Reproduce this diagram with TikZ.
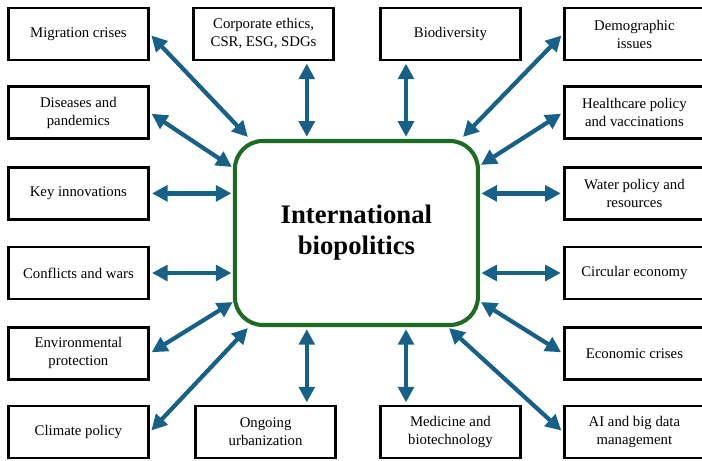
\documentclass[tikz,border=0pt]{standalone}
\usepackage{fontspec}
\setmainfont{Liberation Serif}
\usetikzlibrary{arrows.meta,positioning,calc}
\definecolor{linkblue}{RGB}{23,97,136}
\definecolor{hubgreen}{RGB}{30,108,36}

\begin{document}
\begin{tikzpicture}[
  topic/.style={draw,line width=2.1pt,fill=white,align=center,minimum width=3.5cm,minimum height=1.3cm,inner sep=2pt,font=\fontsize{10.5}{12.8}\selectfont},
  hubbox/.style={draw=hubgreen,line width=2.9pt,rounded corners=0.7cm,fill=white,align=center,minimum width=6.075cm,minimum height=4.6cm,font=\fontsize{19}{22}\selectfont\bfseries},
  link/.style={{Triangle[length=3.9mm,width=3.9mm]}-{Triangle[length=3.9mm,width=3.9mm]},line width=3pt,draw=linkblue,shorten <=1.5pt}
]
\useasboundingbox (0,0) rectangle (17.55,11.525);
\node[hubbox] (hub) at (8.91,5.7) {International\\biopolitics};
% left column
\node[topic] (mig) at (1.96,10.675) {Migration crises};
\node[topic] (dis) at (1.96,8.71) {Diseases and\\pandemics};
\node[topic] (inn) at (1.96,6.69) {Key innovations};
\node[topic] (war) at (1.96,4.70) {Conflicts and wars};
\node[topic] (env) at (1.96,2.69) {Environmental\\protection};
\node[topic] (cli) at (1.96,0.725) {Climate policy};
% top and bottom
\node[topic] (csr) at (6.59,10.675) {Corporate ethics,\\CSR, ESG, SDGs};
\node[topic] (bio) at (11.26,10.675) {Biodiversity};
\node[topic] (urb) at (6.64,0.725) {Ongoing\\urbanization};
\node[topic] (med) at (11.26,0.725) {Medicine and\\biotechnology};
% right column
\node[topic] (dem) at (15.86,10.675) {Demographic\\issues};
\node[topic] (hea) at (15.86,8.71) {Healthcare policy\\and vaccinations};
\node[topic] (wat) at (15.86,6.69) {Water policy and\\resources};
\node[topic] (cir) at (15.86,4.70) {Circular economy};
\node[topic] (eco) at (15.86,2.69) {Economic crises};
\node[topic] (ai) at (15.86,0.725) {AI and big data\\management};
\coordinate (up1) at ($(hub.north)+(-1.24,0)$);
\coordinate (up2) at ($(hub.north)+(1.24,0)$);
\coordinate (dn1) at ($(hub.south)+(-1.24,0)$);
\coordinate (dn2) at ($(hub.south)+(1.24,0)$);
\draw[link] (mig.east) -- ($(hub.north west)+(0.375,0.05)$);
\draw[link] (dis.east) -- ($(hub.north west)+(-0.025,-0.7)$);
\draw[link,shorten >=1pt] (inn.east) -- (inn.east -| hub.west);
\draw[link,shorten >=1pt] (war.east) -- (war.east -| hub.west);
\draw[link] (env.east) -- ($(hub.south west)+(0,0.625)$);
\draw[link] (cli.east) -- ($(hub.south west)+(0.375,-0.025)$);
\draw[link,shorten >=1.5pt] (up1 |- csr.south) -- (up1);
\draw[link,shorten >=1.5pt] (up2 |- bio.south) -- (up2);
\draw[link,shorten >=1.5pt] (dn1 |- urb.north) -- (dn1);
\draw[link,shorten >=1.5pt] (dn2 |- med.north) -- (dn2);
\draw[link] (dem.west) -- ($(hub.north east)+(-0.425,0.05)$);
\draw[link] (hea.west) -- ($(hub.north east)+(0.025,-0.65)$);
\draw[link,shorten >=1pt] (wat.west) -- (wat.west -| hub.east);
\draw[link,shorten >=1pt] (cir.west) -- (cir.west -| hub.east);
\draw[link] (eco.west) -- ($(hub.south east)+(0.025,0.625)$);
\draw[link] (ai.west) -- ($(hub.south east)+(-0.775,-0.025)$);
\end{tikzpicture}
\end{document}
